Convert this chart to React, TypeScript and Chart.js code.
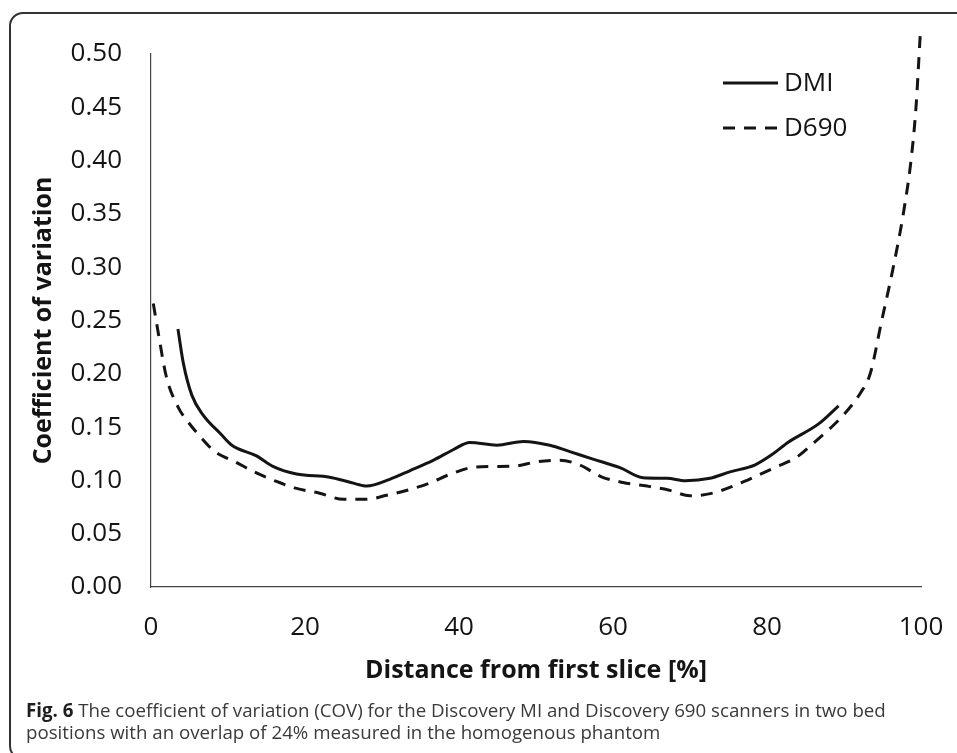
import React, { useEffect, useRef } from "react";
import { Chart, registerables } from "chart.js";

Chart.register(...registerables);

// ---- data ----
const dmiX = [3.5, 4.2, 5.3, 6.8, 9.0, 10.5, 13.7, 15.9, 18.9, 23.2, 25.5, 27.6, 28.0, 31.0, 33.6, 36.7, 39.3, 41.4, 44.9, 48.4, 51.8, 54.4, 57.4, 60.9, 63.9, 67.0, 69.4, 72.6, 75.2, 78.4, 80.8, 82.8, 86.7, 89.3];
const dmiY = [0.242, 0.210, 0.180, 0.161, 0.144, 0.133, 0.123, 0.113, 0.106, 0.103, 0.099, 0.095, 0.0947, 0.101, 0.109, 0.119, 0.129, 0.1356, 0.133, 0.1366, 0.133, 0.127, 0.120, 0.112, 0.1025, 0.102, 0.0997, 0.102, 0.108, 0.1144, 0.125, 0.136, 0.153, 0.170];

const d690X = [0.3, 0.95, 2.0, 3.5, 4.8, 6.4, 8.3, 10.9, 13.7, 16.3, 18.9, 21.9, 25.0, 28.0, 30.6, 33.4, 36.0, 38.8, 41.6, 44.5, 47.3, 50.1, 53.1, 55.7, 58.5, 61.3, 64.4, 67.2, 70.0, 72.8, 75.6, 78.4, 81.0, 83.9, 86.0, 88.2, 90.3, 92.1, 93.4, 94.9, 96.4, 97.7, 98.7, 99.35, 99.9];
const d690Y = [0.266, 0.238, 0.197, 0.169, 0.155, 0.141, 0.127, 0.1175, 0.107, 0.099, 0.0925, 0.088, 0.0822, 0.0822, 0.086, 0.091, 0.097, 0.1056, 0.112, 0.113, 0.1134, 0.1175, 0.119, 0.1144, 0.1034, 0.098, 0.0947, 0.091, 0.0856, 0.0878, 0.0947, 0.1034, 0.112, 0.122, 0.1347, 0.1488, 0.1644, 0.1816, 0.200, 0.250, 0.300, 0.350, 0.400, 0.450, 0.518];

const seriesNames = ["DMI", "D690"];
const xTickStep = 20;
const yTickStep = 0.05;
const xRange = [0, 100];
const yRange = [0, 0.5];
const xAxisTitle = "Distance from first slice [%]";
const yAxisTitle = "Coefficient of variation";
const captionLabel = "Fig. 6";
const captionText =
  " The coefficient of variation (COV) for the Discovery MI and Discovery 690 scanners in two bed positions with an overlap of 24% measured in the homogenous phantom";

const FONT = "'Open Sans', 'Noto Sans', sans-serif";
const INK = "#141414";

export default function App() {
  const ref = useRef<HTMLCanvasElement | null>(null);

  useEffect(() => {
    if (!ref.current) return;

    const insideLegend = {
      id: "insideLegend",
      afterDatasetsDraw(chart: any) {
        const { ctx, chartArea } = chart;
        const right = chartArea.right;
        const top = chartArea.top;
        ctx.save();
        chart.data.datasets.forEach((ds: any, i: number) => {
          const y = top + 29 + i * 45;
          ctx.beginPath();
          ctx.lineWidth = 3;
          ctx.strokeStyle = INK;
          ctx.setLineDash(ds.borderDash || []);
          ctx.moveTo(right - 198, y);
          ctx.lineTo(right - 143, y);
          ctx.stroke();
          ctx.setLineDash([]);
          ctx.fillStyle = INK;
          ctx.font = `26px ${FONT}`;
          ctx.textAlign = "left";
          ctx.textBaseline = "middle";
          ctx.fillText(ds.label, right - 137, y + 1);
        });
        ctx.restore();
      },
    };

    const chart = new Chart(ref.current, {
      type: "line",
      data: {
        datasets: [
          {
            label: seriesNames[0],
            data: dmiX.map((x, i) => ({ x, y: dmiY[i] })),
            borderColor: INK,
            borderWidth: 3,
            pointRadius: 0,
            fill: false,
            cubicInterpolationMode: "monotone",
            clip: false,
          },
          {
            label: seriesNames[1],
            data: d690X.map((x, i) => ({ x, y: d690Y[i] })),
            borderColor: INK,
            borderWidth: 3,
            borderDash: [12, 9],
            pointRadius: 0,
            fill: false,
            cubicInterpolationMode: "monotone",
            clip: false,
          },
        ],
      },
      options: {
        animation: false,
        responsive: false,
        maintainAspectRatio: false,
        layout: { padding: { left: 0, top: 54, right: 36, bottom: 0 } },
        plugins: {
          legend: { display: false },
          tooltip: { enabled: false },
        },
        scales: {
          x: {
            type: "linear",
            min: xRange[0],
            max: xRange[1],
            grid: { display: false, drawTicks: false },
            border: { display: true, color: "#444", width: 1.2 },
            ticks: {
              stepSize: xTickStep,
              padding: 25,
              color: INK,
              font: { family: FONT, size: 26 },
              maxRotation: 0,
            },
            title: {
              display: true,
              text: xAxisTitle,
              color: INK,
              font: { family: FONT, size: 25, weight: "bold" },
              padding: { top: 0, bottom: 67 },
            },
            afterFit(scale: any) {
              scale.height = 166;
              scale.paddingLeft = 0;
              scale.paddingRight = 0;
            },
          },
          y: {
            type: "linear",
            min: yRange[0],
            max: yRange[1],
            grid: { display: false, drawTicks: false },
            border: { display: true, color: "#444", width: 1.2 },
            ticks: {
              stepSize: yTickStep,
              padding: 29,
              color: INK,
              font: { family: FONT, size: 26 },
              callback: (v: any) => Number(v).toFixed(2),
            },
            title: {
              display: true,
              text: yAxisTitle,
              color: INK,
              font: { family: FONT, size: 25, weight: "bold" },
              padding: { top: 29, bottom: 0 },
            },
            afterFit(scale: any) {
              scale.width = 151;
              scale.paddingTop = 0;
              scale.paddingBottom = 0;
            },
          },
        },
      },
      plugins: [insideLegend],
    });

    return () => chart.destroy();
  }, []);

  return (
    <div
      style={{
        position: "absolute",
        left: 0,
        top: 0,
        width: 957,
        height: 753,
        overflow: "hidden",
        background: "#fff",
      }}
    >
      <div
        style={{
          position: "absolute",
          left: 9,
          top: 12,
          width: 1000,
          height: 748,
          border: "2px solid #333",
          borderRadius: 14,
          boxSizing: "border-box",
        }}
      />
      <canvas
        ref={ref}
        width={957}
        height={753}
        style={{ position: "absolute", left: 0, top: 0, width: 957, height: 753 }}
      />
      <div
        style={{
          position: "absolute",
          left: 26,
          top: 699,
          width: 900,
          fontFamily: FONT,
          fontSize: 18.7,
          lineHeight: "22px",
          color: "#3a3a3a",
        }}
      >
        <b style={{ color: "#1e1e1e" }}>{captionLabel}</b>
        {captionText}
      </div>
    </div>
  );
}
